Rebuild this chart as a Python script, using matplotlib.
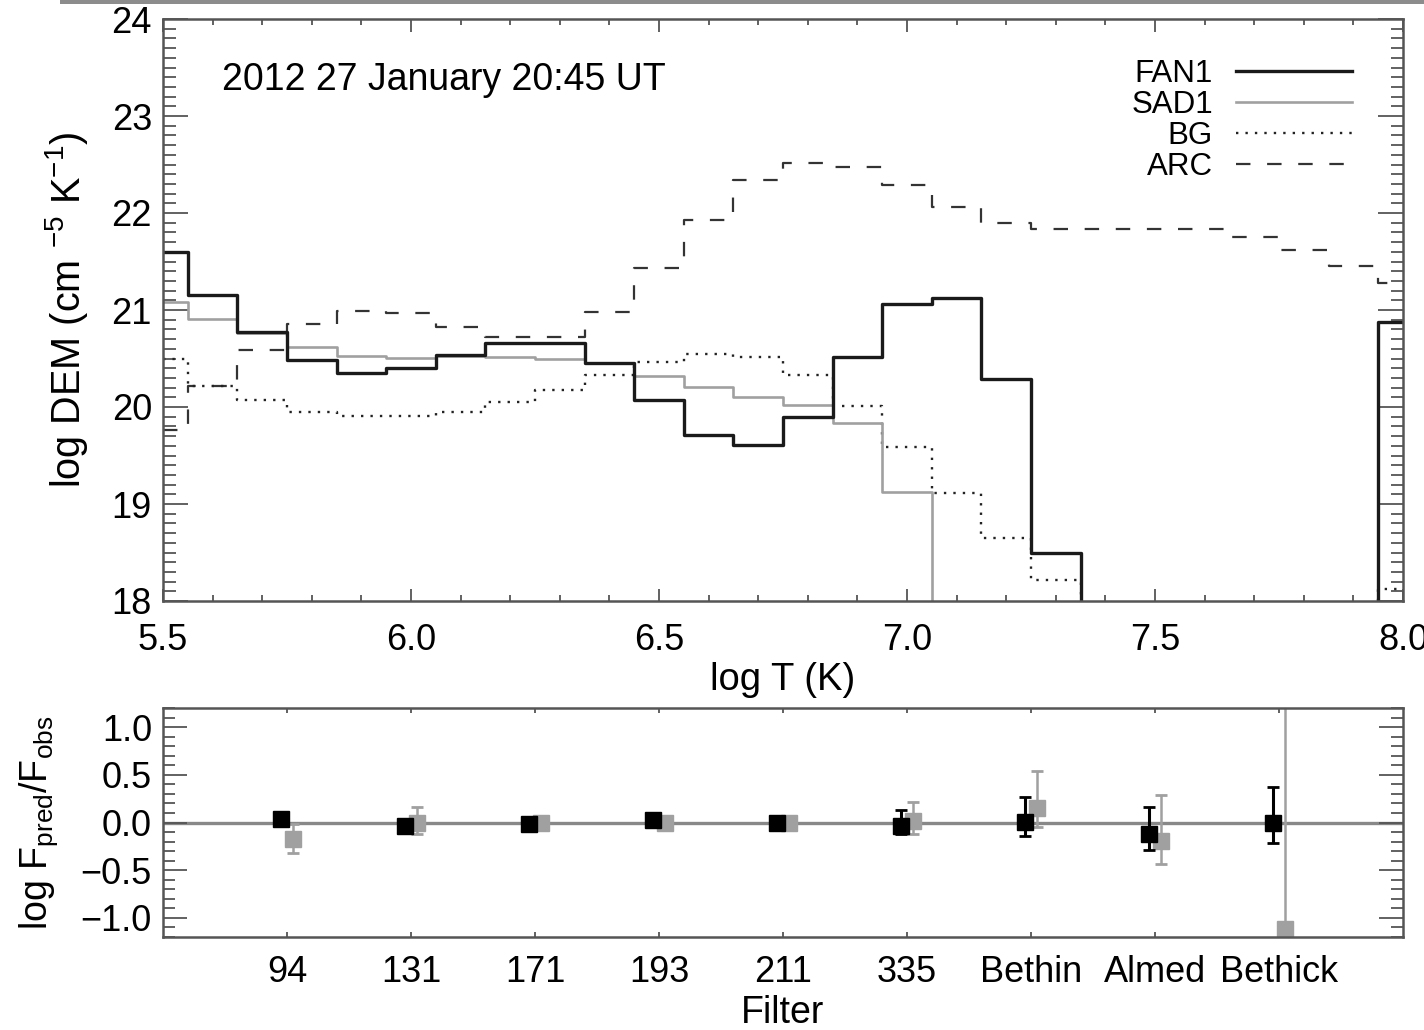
import numpy as np
import matplotlib
matplotlib.use('Agg')
import matplotlib.pyplot as plt
from matplotlib.patches import Rectangle
from matplotlib.ticker import MultipleLocator, FixedLocator

plt.rcParams['font.family'] = ['Liberation Sans', 'DejaVu Sans']
plt.rcParams['mathtext.fontset'] = 'custom'
plt.rcParams['mathtext.rm'] = 'Liberation Sans'
plt.rcParams['mathtext.it'] = 'Liberation Sans:italic'
plt.rcParams['mathtext.bf'] = 'Liberation Sans:bold'

# DEM bins (log T centres) and log DEM per region; 15 = off the bottom of the plot
LOGT = [5.5, 5.6, 5.7, 5.8, 5.9, 6.0, 6.1, 6.2, 6.3, 6.4, 6.5, 6.6, 6.7,
        6.8, 6.9, 7.0, 7.1, 7.2, 7.3, 7.4, 7.5, 7.6, 7.7, 7.8, 7.9, 8.0]
DEM_FAN1 = [21.60, 21.15, 20.77, 20.48, 20.35, 20.40, 20.54, 20.66, 20.66,
            20.45, 20.07, 19.71, 19.61, 19.90, 20.52, 21.06, 21.12, 20.29,
            18.49, 15.0, 15.0, 15.0, 15.0, 15.0, 15.0, 20.88]
DEM_SAD1 = [21.08, 20.91, 20.76, 20.62, 20.53, 20.51, 20.53, 20.52, 20.50,
            20.45, 20.32, 20.21, 20.10, 20.02, 19.84, 19.12, 15.0, 15.0,
            15.0, 15.0, 15.0, 15.0, 15.0, 15.0, 15.0, 15.0]
DEM_BG = [20.50, 20.22, 20.07, 19.95, 19.91, 19.91, 19.95, 20.05, 20.18,
          20.33, 20.46, 20.55, 20.52, 20.33, 20.01, 19.59, 19.11, 18.65,
          18.22, 15.0, 15.0, 15.0, 15.0, 15.0, 15.0, 18.12]
DEM_ARC = [19.76, 20.22, 20.59, 20.86, 20.99, 20.97, 20.82, 20.72, 20.72,
           20.98, 21.43, 21.93, 22.34, 22.52, 22.47, 22.29, 22.06, 21.90,
           21.83, 21.84, 21.84, 21.84, 21.75, 21.62, 21.45, 21.28]

# predicted / observed flux ratios per filter
FILTERS = ['94', '131', '171', '193', '211', '335', 'Bethin', 'Almed', 'Bethick']
RATIO_FAN1 = [0.04, -0.04, -0.02, 0.03, -0.01, -0.04, 0.01, -0.12, -0.01]
ERR_LO_FAN1 = [0.03, 0.03, 0.03, 0.03, 0.03, 0.08, 0.15, 0.17, 0.21]
ERR_HI_FAN1 = [0.03, 0.03, 0.03, 0.03, 0.03, 0.17, 0.26, 0.28, 0.38]
RATIO_SAD1 = [-0.17, -0.01, -0.01, -0.01, -0.01, 0.02, 0.15, -0.19, -1.12]
ERR_LO_SAD1 = [0.15, 0.11, 0.03, 0.03, 0.03, 0.14, 0.20, 0.24, 0.20]
ERR_HI_SAD1 = [0.15, 0.17, 0.03, 0.03, 0.03, 0.19, 0.39, 0.48, 3.00]

FRAME = '#555555'
GREY = '#a0a0a0'

fig = plt.figure(figsize=(14.24, 10.30), dpi=100, facecolor='white')
W, H = 1424.0, 1030.0
ax = fig.add_axes([163 / W, 1 - 601 / H, 1240 / W, 582 / H])
ax2 = fig.add_axes([163 / W, 1 - 937 / H, 1240 / W, 229 / H])

# thin grey rule along the top edge of the page
fig.patches.append(Rectangle((60 / W, 1 - 4 / H), 1 - 60 / W, 4 / H,
                             transform=fig.transFigure, color='#8c8c8c',
                             lw=0))

# ---- DEM panel ----
l_arc, = ax.step(LOGT, DEM_ARC, where='mid', color='#333333', lw=1.6,
                 ls=(0, (6.5, 7.5)), label='ARC')
l_bg, = ax.step(LOGT, DEM_BG, where='mid', color='#222222', lw=1.7,
                ls=(0, (1, 3)), label='BG')
l_sad, = ax.step(LOGT, DEM_SAD1, where='mid', color=GREY, lw=1.9,
                 label='SAD1')
l_fan, = ax.step(LOGT, DEM_FAN1, where='mid', color='#1a1a1a', lw=2.4,
                 label='FAN1')

ax.set_xlim(5.5, 8.0)
ax.set_ylim(18, 24)
ax.xaxis.set_major_locator(MultipleLocator(0.5))
ax.xaxis.set_minor_locator(MultipleLocator(0.1))
ax.yaxis.set_major_locator(MultipleLocator(1))
ax.yaxis.set_minor_locator(MultipleLocator(0.1))
ax.tick_params(which='both', direction='in', top=True, right=True,
               color=FRAME, width=1.3, labelsize=26)
ax.tick_params(axis='y', which='major', length=18, pad=8)
ax.tick_params(axis='y', which='minor', length=9)
ax.tick_params(axis='x', which='major', length=9, pad=16)
ax.tick_params(axis='x', which='minor', length=4.5)
for sp in ax.spines.values():
    sp.set_color(FRAME)
    sp.set_linewidth(1.8)

ax.set_xlabel('log T (K)', fontsize=27.5)
ax.xaxis.set_label_coords(0.5, -0.105)
ax.set_ylabel(r'log DEM (cm $^{-5}$ K$^{-1}$)', fontsize=28.5)
ax.yaxis.set_label_coords(-0.059, 0.5)

ax.text(0.0476, 0.895, '2012 27 January 20:45 UT', transform=ax.transAxes,
        fontsize=27, ha='left', va='center')

ax.legend(handles=[l_fan, l_sad, l_bg, l_arc], loc='upper right',
          bbox_to_anchor=((1352 - 163) / 1240, (601 - 59) / 582),
          frameon=False, markerfirst=False, fontsize=22.5, borderpad=0,
          borderaxespad=0, handlelength=3.7, handletextpad=0.75,
          labelspacing=0.03)

# ---- flux ratio panel ----
xpos = np.arange(1, len(FILTERS) + 1)
ax2.axhline(0, color='#888888', lw=2.4, zorder=1)
ax2.errorbar(xpos - 0.05, RATIO_FAN1, yerr=[ERR_LO_FAN1, ERR_HI_FAN1],
             fmt='s', color='black', ms=11.5, elinewidth=2.2, capsize=4,
             capthick=2, zorder=3)
ax2.errorbar(xpos + 0.05, RATIO_SAD1, yerr=[ERR_LO_SAD1, ERR_HI_SAD1],
             fmt='s', color=GREY, ms=11.5, elinewidth=1.8, capsize=4,
             capthick=2, zorder=2)

ax2.set_xlim(0, 10)
ax2.set_ylim(-1.2, 1.2)
ax2.xaxis.set_major_locator(FixedLocator(xpos))
ax2.set_xticklabels(FILTERS)
ax2.yaxis.set_major_locator(MultipleLocator(0.5))
ax2.yaxis.set_minor_locator(MultipleLocator(0.1))
ax2.tick_params(which='both', direction='in', top=True, right=True,
                color=FRAME, width=1.3, labelsize=26)
ax2.tick_params(axis='y', which='major', length=17, pad=8)
ax2.tick_params(axis='y', which='minor', length=8.5)
ax2.tick_params(axis='x', which='major', length=3.5, pad=13)
for sp in ax2.spines.values():
    sp.set_color(FRAME)
    sp.set_linewidth(1.8)

ax2.set_xlabel('Filter', fontsize=27)
ax2.xaxis.set_label_coords(0.5, -0.255)
ax2.set_ylabel(r'log F$_{\rm pred}$/F$_{\rm obs}$', fontsize=27)
ax2.yaxis.set_label_coords(-0.083, 0.5)

fig.savefig('out.png', dpi=100, facecolor='white')
